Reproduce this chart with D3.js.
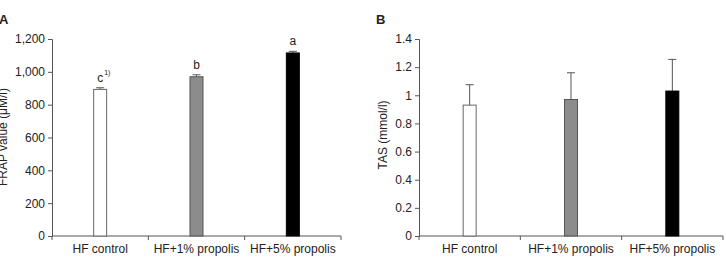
<!DOCTYPE html>
<html>
<head>
<meta charset="utf-8">
<script src="https://cdn.jsdelivr.net/npm/d3@7"></script>
<style>
  body { margin: 0; background: #fff; }
  text { font-family: "Liberation Sans", Arial, sans-serif; fill: #222; }
</style>
</head>
<body>
<div id="chart"></div>
<script>
// Groups and values
var groups = ["HF control", "HF+1% propolis", "HF+5% propolis"];
var frapValues = [893, 970, 1115];
var frapErrors = [10, 12, 10];
var frapLetters = ["c", "b", "a"];
var tasValues = [0.93, 0.97, 1.03];
var tasErrors = [0.145, 0.19, 0.225];
var frapTicks = [0, 200, 400, 600, 800, 1000, 1200];
var tasTicks = [0, 0.2, 0.4, 0.6, 0.8, 1, 1.2, 1.4];
var barFills = ["#ffffff", "#8c8c8c", "#000000"];
var barStrokes = ["#666666", "#555555", "#000000"];

var svg = d3.select("#chart").append("svg")
    .attr("width", 726)
    .attr("height", 257);

function drawPanel(opts) {
    var g = svg.append("g");

    var x = d3.scaleBand()
        .domain(groups)
        .range([opts.left, opts.right]);

    var y = d3.scaleLinear()
        .domain([0, opts.max])
        .range([236, 39]);

    // y axis
    var yAxis = d3.axisLeft(y)
        .tickValues(opts.ticks)
        .tickSize(4)
        .tickFormat(opts.format);
    var ya = g.append("g")
        .attr("transform", `translate(${opts.left},0)`)
        .call(yAxis);
    ya.select(".domain").attr("stroke", "#555");
    ya.selectAll(".tick line").attr("stroke", "#555");
    ya.selectAll(".tick text")
        .attr("font-size", 12)
        .attr("fill", "#222")
        .attr("x", -7)
        .style("font-family", "'Liberation Sans', Arial, sans-serif");

    // x axis with ticks at band borders
    var xa = g.append("g").attr("transform", "translate(0,236)");
    xa.append("line")
        .attr("x1", opts.left).attr("x2", opts.right)
        .attr("stroke", "#555");
    var borders = groups.map(d => x(d)).concat([x(groups[2]) + x.bandwidth()]);
    xa.selectAll(".bt").data(borders).enter().append("line")
        .attr("x1", d => d).attr("x2", d => d)
        .attr("y1", 0).attr("y2", 4)
        .attr("stroke", "#555");
    xa.selectAll(".lbl").data(groups).enter().append("text")
        .attr("x", d => x(d) + x.bandwidth() / 2)
        .attr("y", 17)
        .attr("text-anchor", "middle")
        .attr("font-size", 12)
        .text(d => d);

    var barW = 13;

    // error bars (upper only)
    g.selectAll(".err").data(opts.values).enter().append("path")
        .attr("d", function(d, i) {
            var cx = x(groups[i]) + x.bandwidth() / 2;
            var top = y(d + opts.errors[i]);
            return `M${cx},${y(d)}V${top}M${cx - 4},${top}H${cx + 4}`;
        })
        .attr("stroke", "#555")
        .attr("fill", "none");

    // bars
    g.selectAll(".bar").data(opts.values).enter().append("rect")
        .attr("x", (d, i) => x(groups[i]) + x.bandwidth() / 2 - barW / 2)
        .attr("y", d => y(d))
        .attr("width", barW)
        .attr("height", d => y(0) - y(d))
        .attr("fill", (d, i) => barFills[i])
        .attr("stroke", (d, i) => barStrokes[i]);

    // y label
    g.append("text")
        .attr("transform", `translate(${opts.labelX},${opts.labelY}) rotate(-90)`)
        .attr("text-anchor", "middle")
        .attr("font-size", 12)
        .text(opts.yLabel);

    // panel letter
    g.append("text")
        .attr("x", opts.panelX)
        .attr("y", 24)
        .attr("font-size", 13)
        .attr("font-weight", "bold")
        .text(opts.panel);

    return { x: x, y: y, g: g };
}

var a = drawPanel({
    left: 52, right: 341, max: 1200, ticks: frapTicks,
    format: d3.format(","), values: frapValues, errors: frapErrors,
    yLabel: "FRAP value (\u03bcM/l)", labelX: 7, labelY: 137, panel: "A", panelX: -1
});

// significance letters
a.g.selectAll(".sig").data(frapValues).enter().append("text")
    .attr("x", (d, i) => a.x(groups[i]) + a.x.bandwidth() / 2)
    .attr("y", (d, i) => a.y(d + frapErrors[i]) - 6)
    .attr("text-anchor", "middle")
    .attr("font-size", 12)
    .text((d, i) => frapLetters[i]);
a.g.append("text")
    .attr("x", a.x(groups[0]) + a.x.bandwidth() / 2 + 4)
    .attr("y", a.y(frapValues[0] + frapErrors[0]) - 13)
    .attr("font-size", 7)
    .text("1)");

drawPanel({
    left: 419, right: 723, max: 1.4, ticks: tasTicks,
    format: d => d3.format("")(+d.toFixed(1)), values: tasValues, errors: tasErrors,
    yLabel: "TAS (mmol/l)", labelX: 387, labelY: 135, panel: "B", panelX: 376
});
</script>
</body>
</html>
